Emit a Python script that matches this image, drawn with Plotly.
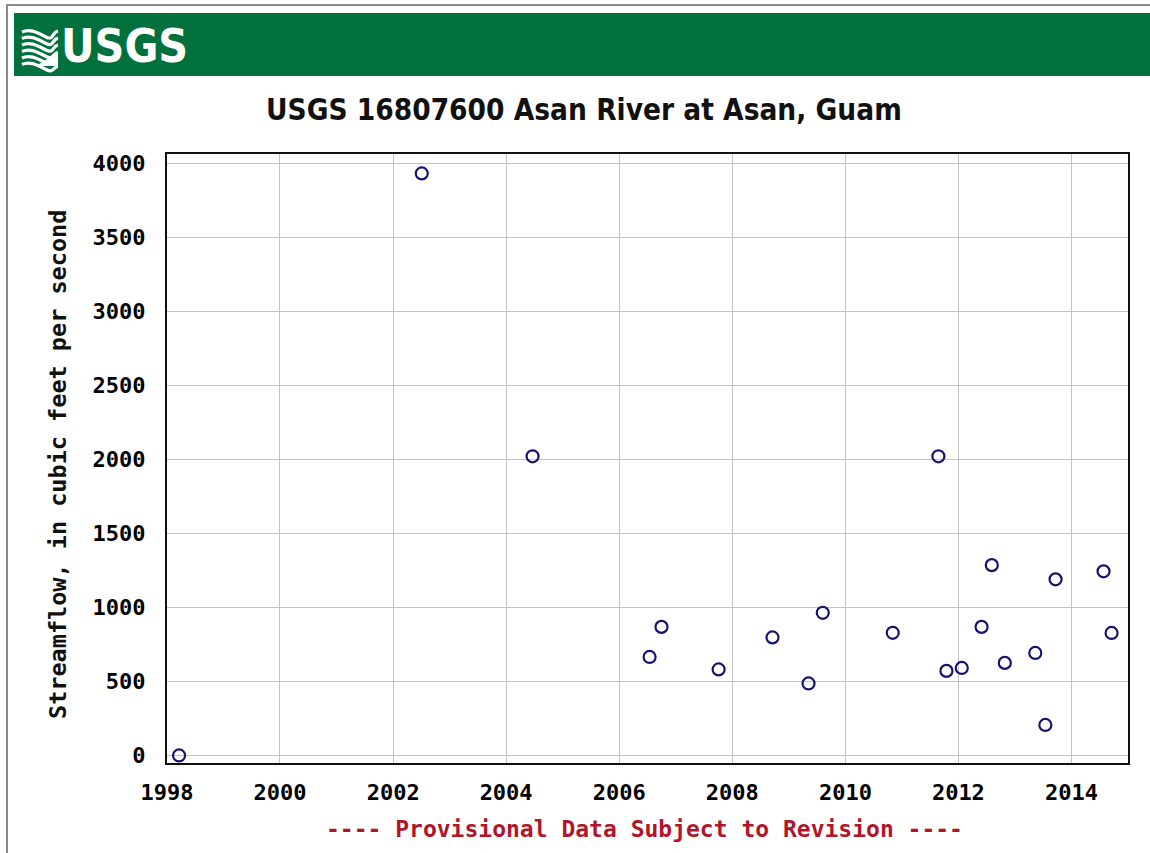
import plotly.graph_objects as go

# Peak streamflow record, USGS 16807600 Asan River at Asan, Guam
dates = [
    "1998-03-20", "2002-07-05", "2004-06-20", "2006-07-16", "2006-10-01",
    "2007-10-05", "2008-09-17", "2009-05-08", "2009-08-08", "2010-11-03",
    "2011-08-25", "2011-10-16", "2012-01-23", "2012-05-30", "2012-08-04",
    "2012-10-27", "2013-05-12", "2013-07-16", "2013-09-20", "2014-07-27",
    "2014-09-17",
]
flow_cfs = [
    0, 3930, 2020, 665, 868,
    581, 797, 486, 963, 828,
    2020, 571, 591, 868, 1285,
    625, 692, 206, 1189, 1243,
    827,
]
year_ticks = ["1998", "2000", "2002", "2004", "2006", "2008", "2010", "2012", "2014"]
flow_ticks = [0, 500, 1000, 1500, 2000, 2500, 3000, 3500, 4000]

title_text = "USGS 16807600 Asan River at Asan, Guam"
y_title = "Streamflow, in cubic feet per second"
note_text = "---- Provisional Data Subject to Revision ----"

W, H = 1150, 853
L, R, T, B = 167, 22, 154, 90
PW, PH = W - L - R, H - T - B


def px(x):
    return (x - L) / PW


def py(y):
    return (H - B - y) / PH


USGS_GREEN = "#00703c"
MONO = "DejaVu Sans Mono, Liberation Mono, monospace"
NARROW = "Liberation Sans Narrow, Arial Narrow, DejaVu Sans Condensed, Liberation Sans, Arial"

fig = go.Figure()
fig.add_trace(go.Scatter(
    x=dates, y=flow_cfs, mode="markers",
    marker=dict(symbol="circle-open", size=12, color="#14146e",
                line=dict(width=2.2, color="#14146e")),
    hoverinfo="x+y", showlegend=False,
))

axis_font = dict(family=MONO, size=22, color="#000000", weight="bold")

fig.update_xaxes(
    type="date",
    range=["1998-01-01", "2015-01-01"],
    tickvals=[f"{y}-01-01" for y in year_ticks],
    ticktext=year_ticks,
    tickfont=axis_font,
    ticks="", ticklabelstandoff=9,
    showgrid=True, gridcolor="#c4c4c4", gridwidth=1,
    showline=True, linecolor="#111111", linewidth=2, mirror=True,
    zeroline=False,
)
fig.update_yaxes(
    range=[-51, 4061],
    tickvals=flow_ticks,
    ticktext=[str(v) for v in flow_ticks],
    tickfont=axis_font,
    ticks="", ticklabelstandoff=15,
    showgrid=True, gridcolor="#c4c4c4", gridwidth=1,
    showline=True, linecolor="#111111", linewidth=2, mirror=True,
    zeroline=False,
)

shapes = [
    # green banner
    dict(type="rect", xref="paper", yref="paper",
         x0=px(14), x1=px(1152), y0=py(76), y1=py(13),
         fillcolor=USGS_GREEN, line=dict(width=0), layer="below"),
    # outer page frame
    dict(type="line", xref="paper", yref="paper",
         x0=px(7), x1=px(7), y0=py(4), y1=py(860),
         line=dict(color="#8a8a8a", width=2)),
    dict(type="line", xref="paper", yref="paper",
         x0=px(6), x1=px(1152), y0=py(5), y1=py(5),
         line=dict(color="#8a8a8a", width=2)),
]

# wave emblem of the USGS logo
for i in range(6):
    y0 = 30 + i * 6.5
    pts = [(22, y0 + 2), (30, y0 - 2), (38, y0 + 3), (46, y0 + 7), (58, y0 + 1 + i * 0.6)]
    path = "M {} {}".format(px(pts[0][0]), py(pts[0][1]))
    path += " C {} {}, {} {}, {} {}".format(px(pts[1][0]), py(pts[1][1]),
                                            px(pts[2][0]), py(pts[2][1]),
                                            px(pts[3][0]), py(pts[3][1]))
    path += " S {} {}, {} {}".format(px(52), py(pts[4][1] + 1), px(pts[4][0]), py(pts[4][1]))
    shapes.append(dict(type="path", xref="paper", yref="paper", path=path,
                       line=dict(color="white", width=3.2)))
# filled lower right wedge of the emblem
shapes.append(dict(
    type="path", xref="paper", yref="paper",
    path="M {} {} L {} {} L {} {} L {} {} Z".format(
        px(36), py(66), px(58), py(52), px(58), py(66), px(36), py(66)),
    fillcolor="white", line=dict(width=0)))

annotations = [
    dict(text="<b>USGS</b>", xref="paper", yref="paper",
         x=px(59), y=py(46), xanchor="left", yanchor="middle", showarrow=False,
         font=dict(family=NARROW, size=46, color="white")),
    dict(text=title_text, xref="paper", yref="paper",
         x=px(584), y=py(110), xanchor="center", yanchor="middle", showarrow=False,
         font=dict(family=NARROW, size=29.5, color="#111111", weight="bold")),
    dict(text=y_title, xref="paper", yref="paper", textangle=-90,
         x=px(58), y=py(465), xanchor="center", yanchor="middle", showarrow=False,
         font=dict(family=MONO, size=23.5, color="#111111", weight="bold")),
    dict(text=note_text, xref="paper", yref="paper",
         x=px(644), y=py(829), xanchor="center", yanchor="middle", showarrow=False,
         font=dict(family=MONO, size=23, color="#b0152a", weight="bold")),
]

fig.update_layout(
    width=W, height=H,
    margin=dict(l=L, r=R, t=T, b=B, autoexpand=False),
    paper_bgcolor="white", plot_bgcolor="white",
    shapes=shapes, annotations=annotations,
    showlegend=False,
)

fig.write_html("out.html")
